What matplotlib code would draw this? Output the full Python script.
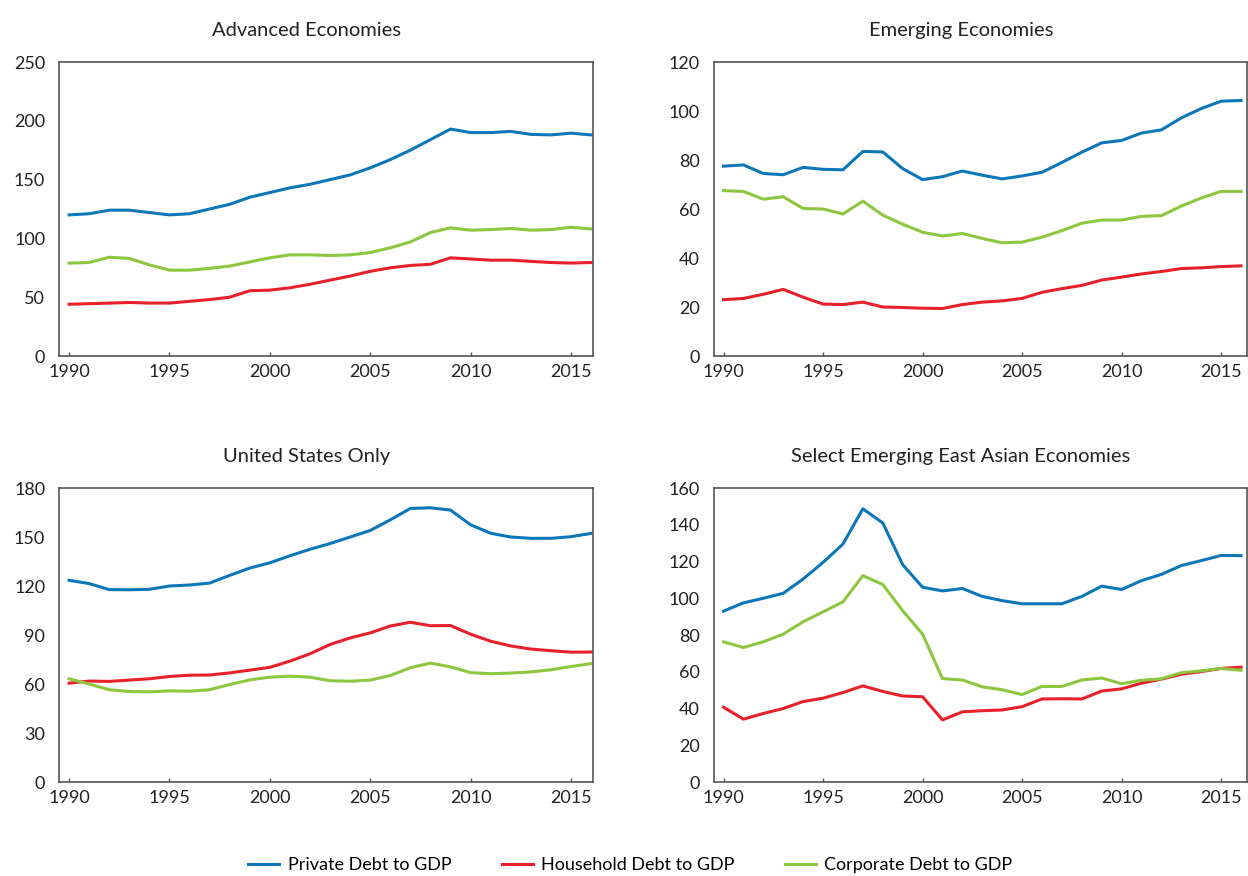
import numpy as np
import matplotlib as mpl
import matplotlib.pyplot as plt
from matplotlib.lines import Line2D

mpl.rcParams['font.family'] = ['Lato', 'DejaVu Sans']

years = np.arange(1990, 2017)

# Advanced Economies
adv_private = [120, 121, 124, 124, 122, 120, 121, 125, 129, 135, 139, 143, 146, 150, 154, 160,
               167, 175, 184, 193, 190, 190, 191, 188.5, 188, 189.5, 188]
adv_household = [44, 44.5, 45, 45.5, 45, 45, 46.5, 48, 50, 55.5, 56, 58, 61, 64.5, 68, 72,
                 75, 77, 78, 83.5, 82.5, 81.5, 81.5, 80.5, 79.5, 79, 79.5]
adv_corporate = [79, 79.5, 84, 83, 77.5, 73, 73, 74.5, 76.5, 80, 83.5, 86, 86, 85.5, 86, 88,
                 92, 97, 105, 109, 107, 107.5, 108.5, 107, 107.5, 109.5, 108]

# Emerging Economies
em_private = [77.5, 78, 74.5, 74, 77, 76.2, 76, 83.5, 83.3, 76.5, 72, 73.2, 75.5, 73.8, 72.3, 73.5,
              75, 79, 83.2, 87, 88, 91, 92.3, 97.2, 101, 104, 104.3]
em_household = [23, 23.5, 25.2, 27.2, 24, 21.2, 21, 22, 20, 19.8, 19.5, 19.4, 21, 22, 22.5, 23.5,
                26, 27.5, 28.8, 31, 32.2, 33.5, 34.5, 35.7, 36, 36.5, 36.8]
em_corporate = [67.5, 67.2, 64, 65, 60.2, 60, 58, 63.2, 57.5, 53.8, 50.5, 49, 50, 48, 46.2, 46.5,
                48.5, 51.2, 54.2, 55.5, 55.5, 57, 57.3, 61.2, 64.5, 67.2, 67.2]

# United States Only
us_private = [123.5, 121.5, 117.8, 117.7, 118, 120, 120.6, 121.8, 126.5, 131, 134.2, 138.5, 142.5,
              146, 150, 154, 160.5, 167.5, 167.9, 166.5, 157.5, 152.3, 150, 149.2, 149.2, 150.2, 152.2]
us_household = [60.5, 61.8, 61.6, 62.4, 63.2, 64.6, 65.4, 65.5, 66.8, 68.5, 70.2, 74, 78.5, 84.2,
                88.2, 91.3, 95.5, 97.8, 95.7, 95.8, 90.5, 86.2, 83.3, 81.4, 80.4, 79.5, 79.6]
us_corporate = [63.2, 60, 56.5, 55.4, 55.2, 55.8, 55.6, 56.5, 59.7, 62.5, 64.2, 64.8, 64.2, 62,
                61.7, 62.4, 65.2, 70, 72.8, 70.5, 67, 66.3, 66.7, 67.4, 68.7, 70.7, 72.5]

# Select Emerging East Asian Economies
ea_private = [93, 97.5, 100, 102.7, 110.5, 119.5, 129.5, 148.7, 141, 118.3, 106, 104, 105.3, 101,
              98.7, 97, 97, 97, 101, 106.6, 104.8, 109.6, 113, 117.8, 120.5, 123.3, 123.2]
ea_household = [40.7, 34.2, 37.3, 40, 43.8, 45.6, 48.7, 52.3, 49.3, 46.8, 46.4, 33.8, 38.2, 38.8,
                39.2, 41, 45.2, 45.3, 45.2, 49.5, 50.7, 53.8, 56, 58.6, 60.1, 61.8, 62.5]
ea_corporate = [76.3, 73.2, 76.3, 80.5, 87.2, 92.6, 98, 112.3, 107.5, 93.2, 80.5, 56.3, 55.5, 51.8,
                50.2, 47.6, 52, 52, 55.5, 56.6, 53.5, 55.4, 56.2, 59.5, 60.5, 61.8, 60.8]

BLUE = '#0b77b8'
RED = '#e8202a'
GREEN = '#8dc63f'

panels = [
    ("Advanced Economies", adv_private, adv_household, adv_corporate, 250, 50,
     [0.0473, 0.5936, 0.4279, 0.3356], (1989.5, 2016.1)),
    ("Emerging Economies", em_private, em_household, em_corporate, 120, 20,
     [0.5721, 0.5936, 0.4271, 0.3356], (1989.52, 2016.3)),
    ("United States Only", us_private, us_household, us_corporate, 180, 30,
     [0.0473, 0.1073, 0.4279, 0.3356], (1989.5, 2016.1)),
    ("Select Emerging East Asian Economies", ea_private, ea_household, ea_corporate, 160, 20,
     [0.5721, 0.1073, 0.4271, 0.3356], (1989.52, 2016.3)),
]

fig = plt.figure(figsize=(12.48, 8.76), dpi=100)

for title, priv, hh, corp, ymax, ystep, pos, xl in panels:
    ax = fig.add_axes(pos)
    ax.plot(years, priv, color=BLUE, lw=2.2)
    ax.plot(years, hh, color=RED, lw=2.2)
    ax.plot(years, corp, color=GREEN, lw=2.2)
    ax.set_xlim(*xl)
    ax.set_ylim(0, ymax)
    ax.set_yticks(np.arange(0, ymax + 1, ystep))
    ax.set_xticks([1990, 1995, 2000, 2005, 2010, 2015])
    ax.tick_params(axis='x', direction='in', length=3, width=1, color='#555555',
                   labelsize=13, pad=6, labelcolor='#222222')
    ax.tick_params(axis='y', length=0, labelsize=13, pad=10, labelcolor='#222222')
    for s in ax.spines.values():
        s.set_color('#555555')
        s.set_linewidth(1.2)
    ax.text(0.463, 1.08, title, transform=ax.transAxes, ha='center', va='bottom',
            fontsize=14.5, color='#222222')

handles = [Line2D([], [], color=BLUE, lw=2.2),
           Line2D([], [], color=RED, lw=2.2),
           Line2D([], [], color=GREEN, lw=2.2)]
labels = ["Private Debt to GDP", "Household Debt to GDP", "Corporate Debt to GDP"]
fig.legend(handles, labels, loc='center', bbox_to_anchor=(0.505, 0.012), ncol=3,
           frameon=False, fontsize=13, handlelength=1.72, columnspacing=2.8,
           handletextpad=0.45)

fig.savefig('out.png', dpi=100)
